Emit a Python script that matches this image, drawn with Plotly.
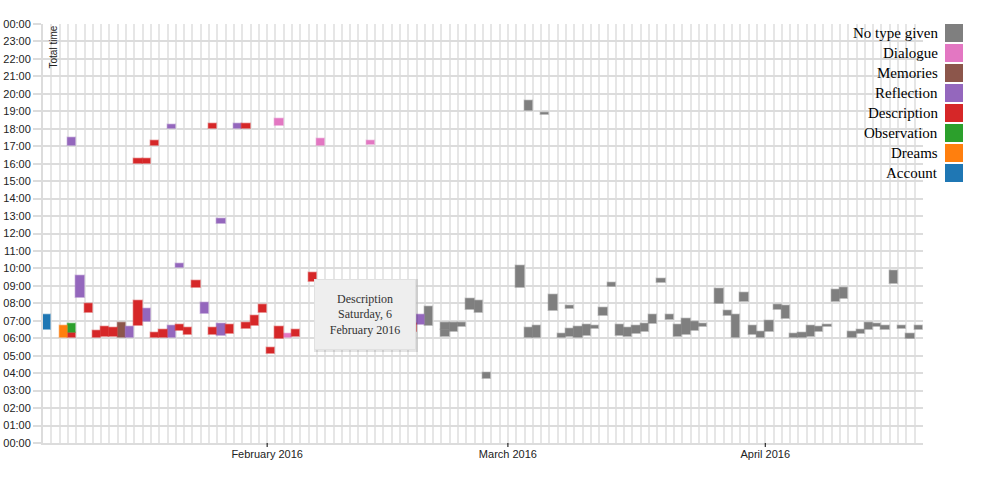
import plotly.graph_objects as go

# ---- data (date, start hour, end hour) per entry type ----
account_dates = ["2016-01-05"]
account_start = [6.50]
account_end = [7.33]

dreams_dates = ["2016-01-07"]
dreams_start = [6.00]
dreams_end = [6.73]

observation_dates = ["2016-01-08"]
observation_start = [6.30]
observation_end = [6.84]

description_dates = ["2016-01-08", "2016-01-10", "2016-01-11", "2016-01-12", "2016-01-13",
                     "2016-01-16", "2016-01-16", "2016-01-17", "2016-01-18", "2016-01-18",
                     "2016-01-19", "2016-01-21", "2016-01-22", "2016-01-23", "2016-01-25",
                     "2016-01-25", "2016-01-27", "2016-01-29", "2016-01-29", "2016-01-30",
                     "2016-01-31", "2016-02-01", "2016-02-02", "2016-02-04", "2016-02-06",
                     "2016-02-18"]
description_start = [6.00, 7.44, 6.00, 6.07, 6.07,
                     6.72, 16.00, 16.00, 6.00, 17.02,
                     6.00, 6.41, 6.19, 8.87, 6.19,
                     18.00, 6.23, 6.55, 18.00, 6.70,
                     7.42, 5.07, 5.98, 6.05, 9.20,
                     6.36]
description_end = [6.30, 7.99, 6.39, 6.62, 6.56,
                   8.13, 16.25, 16.25, 6.32, 17.28,
                   6.47, 6.78, 6.61, 9.30, 6.58,
                   18.25, 6.75, 6.90, 18.25, 7.29,
                   7.88, 5.46, 6.64, 6.50, 9.74,
                   6.79]

reflection_dates = ["2016-01-08", "2016-01-09", "2016-01-15", "2016-01-17", "2016-01-20",
                    "2016-01-20", "2016-01-21", "2016-01-24", "2016-01-26", "2016-01-26",
                    "2016-01-28", "2016-02-19"]
reflection_start = [17.02, 8.28, 6.00, 6.94, 6.00,
                    17.99, 10.02, 7.41, 6.12, 12.55,
                    18.00, 6.75]
reflection_end = [17.45, 9.55, 6.63, 7.68, 6.73,
                  18.24, 10.28, 8.01, 6.82, 12.82,
                  18.25, 7.31]

memories_dates = ["2016-01-14"]
memories_start = [6.00]
memories_end = [6.90]

dialogue_dates = ["2016-02-02", "2016-02-03", "2016-02-07", "2016-02-13"]
dialogue_start = [18.16, 6.00, 17.02, 17.06]
dialogue_end = [18.55, 6.25, 17.40, 17.32]

notype_dates = ["2016-02-20", "2016-02-22", "2016-02-22", "2016-02-23", "2016-02-24",
                "2016-02-25", "2016-02-26", "2016-02-27", "2016-03-02", "2016-03-03",
                "2016-03-03", "2016-03-04", "2016-03-05", "2016-03-06", "2016-03-07",
                "2016-03-08", "2016-03-08", "2016-03-09", "2016-03-10", "2016-03-11",
                "2016-03-12", "2016-03-13", "2016-03-14", "2016-03-15", "2016-03-16",
                "2016-03-17", "2016-03-18", "2016-03-19", "2016-03-20", "2016-03-21",
                "2016-03-22", "2016-03-23", "2016-03-24", "2016-03-26", "2016-03-27",
                "2016-03-28", "2016-03-29", "2016-03-30", "2016-03-31", "2016-04-01",
                "2016-04-02", "2016-04-03", "2016-04-04", "2016-04-05", "2016-04-06",
                "2016-04-07", "2016-04-08", "2016-04-09", "2016-04-10", "2016-04-11",
                "2016-04-12", "2016-04-13", "2016-04-14", "2016-04-15", "2016-04-16",
                "2016-04-17", "2016-04-18", "2016-04-19"]
notype_start = [6.70, 6.08, 6.47, 6.37, 6.62,
                7.60, 7.44, 3.65, 8.88, 6.00,
                19.02, 6.01, 18.79, 7.56, 6.04,
                6.10, 7.69, 6.00, 6.11, 6.52,
                7.27, 8.94, 6.13, 6.10, 6.24,
                6.34, 6.83, 9.16, 7.02, 6.09,
                6.19, 6.42, 6.65, 7.94, 7.25,
                6.00, 8.08, 6.19, 6.00, 6.36,
                7.62, 7.10, 6.00, 6.00, 6.10,
                6.34, 6.64, 8.07, 8.22, 6.00,
                6.25, 6.47, 6.66, 6.50, 9.10,
                6.54, 5.97, 6.46]
notype_end = [7.79, 6.47, 6.85, 6.90, 6.90,
              8.22, 8.14, 4.00, 10.15, 6.57,
              19.57, 6.68, 18.90, 8.46, 6.27,
              6.55, 7.84, 6.65, 6.74, 6.70,
              7.71, 9.17, 6.78, 6.60, 6.73,
              6.84, 7.32, 9.37, 7.34, 6.75,
              7.12, 6.92, 6.84, 8.83, 7.55,
              7.33, 8.60, 6.68, 6.36, 6.97,
              7.93, 7.82, 6.27, 6.31, 6.71,
              6.65, 6.75, 8.79, 8.90, 6.38,
              6.50, 6.85, 6.84, 6.72, 9.86,
              6.68, 6.22, 6.73]

type_names = ["No type given", "Dialogue", "Memories", "Reflection",
              "Description", "Observation", "Dreams", "Account"]
type_colors = ["#7f7f7f", "#e377c2", "#8c564b", "#9467bd",
               "#d62728", "#2ca02c", "#ff7f0e", "#1f77b4"]

hour_labels = ["%02d:00" % (h % 24) for h in range(25)]

x_range = ["2016-01-05", "2016-04-20"]
month_ticks = ["2016-02-01", "2016-03-01", "2016-04-01"]
month_labels = ["February 2016", "March 2016", "April 2016"]

tooltip_lines = ["Description", "Saturday, 6", "February 2016"]

series = [
    (notype_dates, notype_start, notype_end),
    (dialogue_dates, dialogue_start, dialogue_end),
    (memories_dates, memories_start, memories_end),
    (reflection_dates, reflection_start, reflection_end),
    (description_dates, description_start, description_end),
    (observation_dates, observation_start, observation_end),
    (dreams_dates, dreams_start, dreams_end),
    (account_dates, account_start, account_end),
]


def hex_rgba(h, a):
    h = h.lstrip("#")
    return "rgba(%d,%d,%d,%.2f)" % (int(h[0:2], 16), int(h[2:4], 16), int(h[4:6], 16), a)


DAY_MS = 86400000
fig = go.Figure()
for name, color, (d, s, e) in zip(type_names, type_colors, series):
    fig.add_trace(go.Bar(
        x=d, base=s, y=[b - a for a, b in zip(s, e)],
        offset=0, width=DAY_MS,
        marker=dict(color=color, line=dict(color=hex_rgba(color, 0.35), width=1.5)),
        name=name, showlegend=False, hoverinfo="skip",
    ))

W, H = 990, 479
PLOT_L, PLOT_R, PLOT_T, PLOT_B = 43, 923, 24, 443   # window pixel coords of plot area
L, T = PLOT_L, PLOT_T
R, B = W - PLOT_R, H - PLOT_B
PW, PH = PLOT_R - PLOT_L, PLOT_B - PLOT_T


def px_x(x):
    return (x - PLOT_L) / PW


def px_y(y):
    return (PLOT_B - y) / PH


grid_v = "#e6e6e6"
grid_h = "#dcdcdc"
axis_font = dict(family="Liberation Sans, Arial, sans-serif", size=11, color="#222")

shapes = []
annotations = []
# month tick marks below the axis
for m in month_ticks:
    shapes.append(dict(type="line", xref="x", yref="paper", x0=m, x1=m,
                       y0=0, y1=-4.0 / PH, line=dict(color="#000", width=1), layer="above"))

# custom legend: label then swatch on the right
for i, (name, color) in enumerate(zip(type_names, type_colors)):
    top = 24 + 20 * i
    shapes.append(dict(type="rect", xref="paper", yref="paper",
                       x0=px_x(945), x1=px_x(963), y0=px_y(top + 18), y1=px_y(top),
                       fillcolor=color, line=dict(width=0), layer="above"))
    annotations.append(dict(text=name, xref="paper", yref="paper", x=px_x(940), y=px_y(top + 9),
                            xanchor="right", yanchor="middle", showarrow=False,
                            font=dict(family="Liberation Serif, Times New Roman, serif", size=15, color="#000")))

annotations.append(dict(text="Total time", xref="paper", yref="paper", x=px_x(52.5), y=px_y(47),
                        xanchor="center", yanchor="middle", textangle=-90, showarrow=False,
                        font=dict(family="Liberation Sans, Arial, sans-serif", size=10, color="#222")))

# static tooltip
shapes.append(dict(type="rect", xref="paper", yref="paper",
                   x0=px_x(314), x1=px_x(418), y0=px_y(352), y1=px_y(279),
                   fillcolor="rgba(0,0,0,0.10)", line=dict(width=0), layer="above"))
annotations.append(dict(text="<br>".join(tooltip_lines), xref="paper", yref="paper",
                        x=px_x(365), y=px_y(314.5), xanchor="center", yanchor="middle",
                        showarrow=False, width=100, height=69, borderpad=0,
                        bgcolor="#eeeeee", bordercolor="#e0e0e0", borderwidth=1,
                        font=dict(family="Liberation Serif, Times New Roman, serif", size=12, color="#333")))

fig.update_layout(
    width=W, height=H,
    margin=dict(l=L, r=R, t=T, b=B, autoexpand=False),
    paper_bgcolor="white", plot_bgcolor="white",
    barmode="overlay", bargap=0,
    showlegend=False, hovermode=False,
    shapes=shapes, annotations=annotations,
    xaxis=dict(
        type="date", range=x_range,
        tickmode="array", tickvals=month_ticks, ticktext=month_labels,
        ticks="",
        showgrid=True, gridcolor=grid_v, gridwidth=2,
        minor=dict(dtick=DAY_MS, tick0="2016-01-05", showgrid=True,
                   gridcolor=grid_v, gridwidth=2, ticks=""),
        showline=True, linecolor=grid_h, linewidth=2,
        zeroline=False, tickfont=axis_font,
    ),
    yaxis=dict(
        range=[0, 24], tickmode="array",
        tickvals=list(range(25)), ticktext=hour_labels,
        ticks="outside", ticklen=8, tickcolor=grid_h, tickwidth=2,
        showgrid=True, gridcolor=grid_h, gridwidth=2,
        showline=True, linecolor=grid_h, linewidth=2,
        zeroline=False, tickfont=axis_font,
    ),
)

# remove the page's default 8px body margin so the figure sits at the window origin
fig.write_html("out.html",
               config={"displayModeBar": False},
               post_script="document.body.style.margin='0';document.body.style.overflow='hidden';")
